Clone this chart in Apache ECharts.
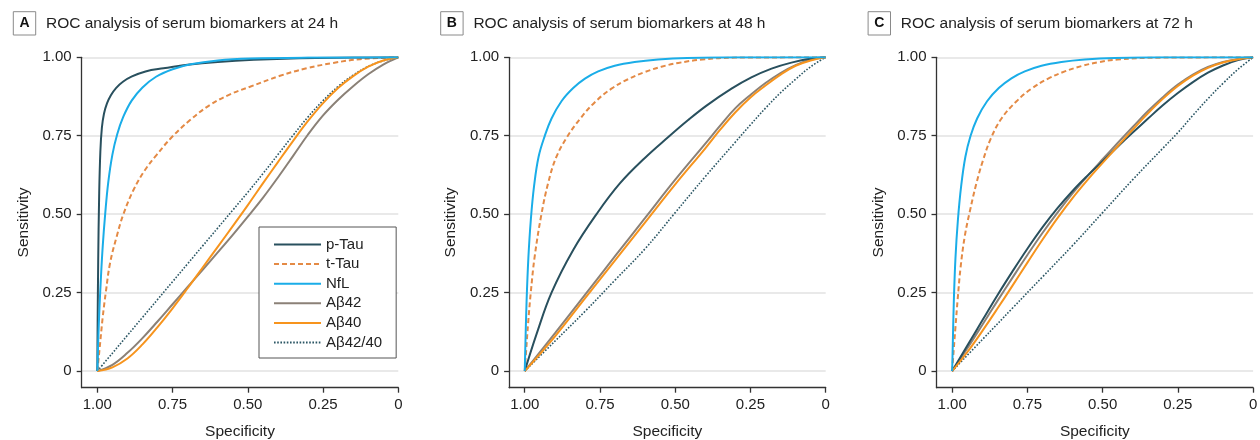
<!DOCTYPE html>
<html><head><meta charset="utf-8">
<script src="https://cdn.jsdelivr.net/npm/echarts@6/dist/echarts.min.js"></script>
<style>html,body{margin:0;padding:0;background:#fff}#chart{width:1260px;height:440px}</style>
</head><body><div id="chart"></div>
<script>
// ---------- text ----------
const seriesNames = ['p-Tau', 't-Tau', 'NfL', 'Aβ42', 'Aβ40', 'Aβ42/40'];
const panelLetters = ['A', 'B', 'C'];
const panelTitles = [
  'ROC analysis of serum biomarkers at 24 h',
  'ROC analysis of serum biomarkers at 48 h',
  'ROC analysis of serum biomarkers at 72 h'
];
const tickValues = [0, 0.25, 0.5, 0.75, 1];
const xAxisName = 'Specificity';
const yAxisName = 'Sensitivity';

// ---------- data: [specificity, sensitivity] ----------
// Panel A (24 h)
const A_pTau = [[1,0],[0.9993,0.12],[0.9972,0.35],[0.994,0.56],[0.99,0.70],[0.985,0.775],[0.978,0.82],[0.968,0.853],[0.955,0.879],[0.938,0.902],[0.915,0.922],[0.885,0.939],[0.84,0.955],[0.78,0.965],[0.7,0.976],[0.6,0.985],[0.48,0.992],[0.33,0.997],[0.15,0.999],[0,1]];
const A_tTau = [[1,0],[0.993,0.067],[0.982,0.173],[0.972,0.25],[0.958,0.343],[0.936,0.428],[0.9136,0.4995],[0.88,0.577],[0.8416,0.641],[0.803,0.689],[0.753,0.745],[0.692,0.8],[0.626,0.848],[0.559,0.882],[0.493,0.906],[0.393,0.941],[0.305,0.965],[0.216,0.982],[0.127,0.994],[0,1]];
const A_NfL = [[1,0],[0.997,0.1],[0.993,0.2],[0.988,0.3],[0.982,0.4],[0.974,0.5],[0.964,0.6],[0.95,0.69],[0.934,0.755],[0.914,0.81],[0.886,0.862],[0.85,0.904],[0.805,0.938],[0.75,0.962],[0.69,0.978],[0.6,0.99],[0.49,0.996],[0.3,0.999],[0,1]];
const A_Ab42 = [[1,0],[0.95,0.02],[0.9,0.058],[0.85,0.105],[0.8,0.158],[0.75,0.213],[0.7,0.268],[0.65,0.323],[0.6,0.378],[0.55,0.434],[0.5,0.492],[0.45,0.552],[0.4,0.617],[0.35,0.685],[0.3,0.754],[0.25,0.815],[0.2,0.865],[0.15,0.908],[0.1,0.946],[0.05,0.977],[0,1]];
const A_Ab40 = [[1,0],[0.95,0.012],[0.9,0.04],[0.85,0.085],[0.8,0.14],[0.75,0.2],[0.7,0.264],[0.65,0.33],[0.6,0.396],[0.55,0.462],[0.5,0.529],[0.45,0.598],[0.4,0.666],[0.35,0.733],[0.3,0.797],[0.25,0.854],[0.2,0.902],[0.15,0.94],[0.1,0.97],[0.05,0.99],[0,1]];
const A_Ratio = [[1,0],[0.95,0.057],[0.9,0.114],[0.85,0.171],[0.8,0.228],[0.75,0.285],[0.7,0.342],[0.65,0.399],[0.6,0.456],[0.55,0.513],[0.5,0.57],[0.45,0.629],[0.4,0.69],[0.35,0.751],[0.3,0.81],[0.25,0.862],[0.2,0.907],[0.15,0.943],[0.1,0.971],[0.05,0.989],[0,1]];

// Panel B (48 h)
const B_pTau = [[1,0],[0.96,0.12],[0.911,0.25],[0.839,0.386],[0.762,0.4995],[0.684,0.598],[0.6,0.68],[0.524,0.745],[0.457,0.8],[0.396,0.846],[0.313,0.9],[0.247,0.936],[0.18,0.964],[0.114,0.983],[0.048,0.996],[0,1]];
const B_tTau = [[1,0],[0.995,0.07],[0.989,0.15],[0.98,0.25],[0.967,0.365],[0.9446,0.4995],[0.922,0.6],[0.896,0.68],[0.86,0.745],[0.817,0.803],[0.767,0.857],[0.712,0.9],[0.657,0.93],[0.601,0.953],[0.546,0.97],[0.49,0.982],[0.41,0.993],[0.3,0.999],[0,1]];
const B_NfL = [[1,0],[0.998,0.08],[0.994,0.22],[0.988,0.36],[0.98,0.48],[0.969,0.59],[0.954,0.683],[0.9336,0.749],[0.911,0.805],[0.878,0.86],[0.839,0.902],[0.8,0.932],[0.756,0.955],[0.701,0.973],[0.635,0.985],[0.557,0.993],[0.46,0.998],[0.3,1],[0,1]];
const B_Ab42 = [[1,0],[0.9,0.12],[0.8,0.243],[0.7,0.366],[0.6,0.488],[0.5,0.61],[0.4,0.725],[0.35,0.783],[0.3,0.838],[0.25,0.88],[0.2,0.918],[0.15,0.95],[0.1,0.975],[0.05,0.992],[0,1]];
const B_Ab40 = [[1,0],[0.9,0.11],[0.8,0.232],[0.7,0.353],[0.6,0.474],[0.5,0.595],[0.4,0.71],[0.35,0.77],[0.3,0.825],[0.25,0.872],[0.2,0.91],[0.15,0.945],[0.1,0.973],[0.05,0.99],[0,1]];
const B_Ratio = [[1,0],[0.9,0.095],[0.8,0.19],[0.7,0.29],[0.6,0.39],[0.5,0.505],[0.4,0.62],[0.3,0.73],[0.25,0.785],[0.2,0.838],[0.15,0.887],[0.1,0.93],[0.05,0.97],[0,1]];

// Panel C (72 h)
const C_pTau = [[1,0],[0.95,0.0805],[0.9,0.161],[0.85,0.241],[0.8,0.317],[0.75,0.39],[0.7,0.458],[0.65,0.519],[0.6,0.574],[0.55,0.623],[0.5,0.669],[0.45,0.715],[0.4,0.76],[0.35,0.804],[0.3,0.847],[0.25,0.886],[0.2,0.921],[0.15,0.951],[0.1,0.974],[0.05,0.991],[0,1]];
const C_tTau = [[1,0],[0.995,0.065],[0.989,0.14],[0.982,0.225],[0.972,0.33],[0.958,0.43],[0.941,0.51],[0.919,0.6],[0.898,0.67],[0.872,0.74],[0.836,0.805],[0.786,0.86],[0.7364,0.9],[0.681,0.932],[0.6257,0.955],[0.57,0.972],[0.515,0.984],[0.45,0.993],[0.3,0.999],[0,1]];
const C_NfL = [[1,0],[0.998,0.08],[0.9945,0.22],[0.989,0.36],[0.981,0.48],[0.97,0.59],[0.956,0.683],[0.939,0.749],[0.917,0.805],[0.884,0.86],[0.845,0.902],[0.803,0.933],[0.7586,0.955],[0.703,0.973],[0.637,0.985],[0.559,0.993],[0.46,0.998],[0.3,1],[0,1]];
const C_Ab42 = [[1,0],[0.95,0.072],[0.9,0.147],[0.85,0.223],[0.8,0.297],[0.75,0.37],[0.7,0.44],[0.65,0.505],[0.6,0.566],[0.55,0.622],[0.5,0.675],[0.45,0.727],[0.4,0.778],[0.35,0.828],[0.3,0.873],[0.25,0.913],[0.2,0.945],[0.15,0.969],[0.1,0.985],[0.05,0.995],[0,1]];
const C_Ab40 = [[1,0],[0.95,0.06],[0.9,0.1275],[0.85,0.1985],[0.8,0.2715],[0.75,0.3455],[0.7,0.4185],[0.65,0.4875],[0.6,0.5515],[0.55,0.6095],[0.5,0.6635],[0.45,0.7165],[0.4,0.7695],[0.35,0.8205],[0.3,0.8675],[0.25,0.9085],[0.2,0.9415],[0.15,0.9665],[0.1,0.9835],[0.05,0.9935],[0,1]];
const C_Ratio = [[1,0],[0.9,0.1],[0.8,0.2],[0.7,0.3],[0.6,0.4],[0.5,0.505],[0.4,0.61],[0.3,0.71],[0.25,0.76],[0.2,0.815],[0.15,0.868],[0.1,0.917],[0.05,0.962],[0,1]];

const panelData = [
  [A_pTau, A_tTau, A_NfL, A_Ab42, A_Ab40, A_Ratio],
  [B_pTau, B_tTau, B_NfL, B_Ab42, B_Ab40, B_Ratio],
  [C_pTau, C_tTau, C_NfL, C_Ab42, C_Ab40, C_Ratio]
];

// ---------- styling / layout ----------
const FONT = "'Liberation Sans', Arial, sans-serif";
const lineStyles = [
  { color: '#29505e', type: 'solid', width: 2 },
  { color: '#e48a45', type: [5, 3], width: 2 },
  { color: '#1aade8', type: 'solid', width: 2 },
  { color: '#8b8177', type: 'solid', width: 2 },
  { color: '#f7941d', type: 'solid', width: 2 },
  { color: '#2b5664', type: [1.6, 1.6], width: 1.6 }
];
const zOrder = [3, 2, 4, 2, 3, 2];
const gridLefts = [81.7, 509.1, 936.5];
const gridTop = 57.3, gridW = 316.6, gridH = 330.4;
const fmt = v => (v === 0 ? '0' : v.toFixed(2));

const grids = [], xAxes = [], yAxes = [], series = [], graphics = [];
gridLefts.forEach((gl, i) => {
  grids.push({ left: gl, top: gridTop, width: gridW, height: gridH, outerBoundsMode: 'none', containLabel: false });
  xAxes.push({
    gridIndex: i, type: 'value', inverse: true, min: 0, max: 1.052,
    name: xAxisName, nameLocation: 'middle', nameGap: 36,
    nameTextStyle: { fontSize: 15.5, color: '#222', fontFamily: FONT },
    axisLine: { show: true, onZero: false, lineStyle: { color: '#333', width: 1.3 } },
    axisTick: { show: true, length: 5, customValues: tickValues, lineStyle: { color: '#333', width: 1.3 } },
    axisLabel: { customValues: tickValues, formatter: fmt, fontSize: 15, color: '#222', fontFamily: FONT, margin: 10 },
    splitLine: { show: false }
  });
  yAxes.push({
    gridIndex: i, type: 'value', min: -0.053, max: 1,
    name: yAxisName, nameLocation: 'middle', nameGap: 50,
    nameTextStyle: { fontSize: 15.5, color: '#222', fontFamily: FONT },
    axisLine: { show: true, onZero: false, lineStyle: { color: '#333', width: 1.3 } },
    axisTick: { show: true, length: 5, customValues: tickValues, lineStyle: { color: '#333', width: 1.3 } },
    axisLabel: { customValues: tickValues, formatter: fmt, fontSize: 15, color: '#222', fontFamily: FONT, margin: 10 },
    splitLine: { show: true, lineStyle: { color: '#e2e2e2', width: 1.5 } }
  });
  panelData[i].forEach((arr, k) => {
    series.push({
      type: 'line', name: seriesNames[k], xAxisIndex: i, yAxisIndex: i,
      data: arr, symbol: 'none', showSymbol: false, smooth: 0.4,
      lineStyle: lineStyles[k], itemStyle: { color: lineStyles[k].color },
      z: zOrder[k], animation: false
    });
  });
  const bx = gl - 68.4;
  graphics.push({ type: 'rect', shape: { x: bx, y: 11.7, width: 22.4, height: 23.3 }, style: { fill: '#fff', stroke: '#8a8a8a', lineWidth: 1 } });
  graphics.push({ type: 'text', x: bx + 11.2, y: 23.6, style: { text: panelLetters[i], font: 'bold 14px ' + FONT, fill: '#111', align: 'center', verticalAlign: 'middle' } });
  graphics.push({ type: 'text', x: gl - 35.7, y: 24, style: { text: panelTitles[i], font: '15.5px ' + FONT, fill: '#222', align: 'left', verticalAlign: 'middle' } });
});

const chart = echarts.init(document.getElementById('chart'), null, { renderer: 'canvas' });
chart.setOption({
  animation: false,
  backgroundColor: '#fff',
  grid: grids, xAxis: xAxes, yAxis: yAxes, series: series,
  graphic: graphics,
  legend: {
    data: seriesNames, orient: 'vertical', left: 259, top: 227,
    itemWidth: 47, itemHeight: 14, itemGap: 4.6,
    padding: [10, 14, 8, 14], borderColor: '#555', borderWidth: 1, backgroundColor: '#fff',
    itemStyle: { opacity: 0 },
    textStyle: { fontSize: 15, color: '#222', fontFamily: FONT, lineHeight: 15 },
    selectedMode: false, z: 10
  }
});
</script></body></html>
